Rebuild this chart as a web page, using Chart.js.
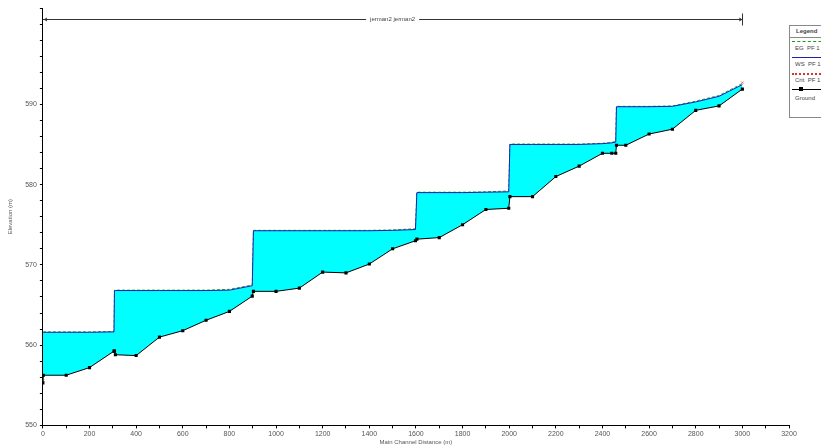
<!DOCTYPE html>
<html>
<head>
<meta charset="utf-8">
<script src="https://cdn.jsdelivr.net/npm/chart.js@4/dist/chart.umd.min.js"></script>
<style>
  html,body{margin:0;padding:0;background:#fff;overflow:hidden;}
  #wrap{position:relative;width:821px;height:446px;}
  #legend{position:absolute;left:789px;top:25px;width:50px;height:91px;border:1px solid #888;background:#fff;
    font-family:"Liberation Sans",Arial,sans-serif;font-size:6px;color:#444;}
  #legend .hdr{height:11px;line-height:11px;padding-left:6px;border-bottom:1px solid #888;font-weight:bold;}
  #legend .row{position:relative;height:16px;}
  #legend .ln{position:absolute;left:2px;width:40px;top:3px;height:0;}
  #legend .tx{position:absolute;left:5px;top:7px;}
</style>
</head>
<body>
<div id="wrap">
<canvas id="c" width="821" height="446"></canvas>
<div id="legend">
  <div class="hdr">Legend</div>
  <div class="row"><div class="ln" style="border-top:1px dashed #1a9a1a"></div><div class="tx">EG&nbsp; PF 1</div></div>
  <div class="row"><div class="ln" style="border-top:1px solid #2020b0"></div><div class="tx">WS&nbsp; PF 1</div></div>
  <div class="row"><div class="ln" style="border-top:2px dotted #e03030"></div><div class="tx">Crit&nbsp; PF 1</div></div>
  <div class="row"><div class="ln" style="border-top:1px solid #000"></div><div style="position:absolute;left:9px;top:1px;width:4px;height:4px;background:#000"></div><div class="tx" style="top:9px">Ground</div></div>
</div>
</div>
<script>
// Main channel distance (m) of each cross section
const stations = [0, 2, 100, 200, 305, 307, 311, 400, 500, 600, 700, 800, 898, 903, 1000, 1100, 1200, 1300, 1400, 1500, 1598, 1604, 1700, 1800, 1900, 1998, 2003, 2100, 2200, 2300, 2400, 2440, 2457, 2460, 2500, 2600, 2700, 2800, 2900, 3000];
// Ground (channel bed) elevation (m)
const ground = [555.3, 556.25, 556.25, 557.2, 559.25, 559.25, 558.8, 558.7, 561.0, 561.8, 563.1, 564.2, 566.1, 566.7, 566.7, 567.1, 569.1, 569.0, 570.1, 572.0, 573.0, 573.2, 573.4, 575.0, 576.9, 577.05, 578.5, 578.5, 581.0, 582.3, 583.9, 583.9, 583.9, 584.9, 584.9, 586.3, 586.9, 589.25, 589.8, 591.9];
// Water surface elevation, profile PF 1 (m)
const wsPF1 = [561.6, 561.6, 561.6, 561.6, 561.65, 566.8, 566.8, 566.8, 566.8, 566.8, 566.8, 566.85, 567.4, 574.25, 574.25, 574.25, 574.25, 574.25, 574.25, 574.3, 574.4, 579.0, 579.0, 579.0, 579.05, 579.1, 585.0, 585.0, 585.0, 585.0, 585.1, 585.2, 585.3, 589.7, 589.7, 589.7, 589.75, 590.3, 591.0, 592.45];
// Energy grade line, profile PF 1 (m)
const egPF1 = [561.65, 561.65, 561.65, 561.65, 561.7, 566.85, 566.85, 566.85, 566.85, 566.85, 566.85, 566.95, 567.5, 574.3, 574.3, 574.3, 574.3, 574.3, 574.3, 574.35, 574.5, 579.05, 579.05, 579.05, 579.1, 579.2, 585.05, 585.05, 585.05, 585.05, 585.15, 585.25, 585.4, 589.75, 589.75, 589.75, 589.8, 590.4, 591.1, 592.6];
// Critical water surface, profile PF 1 (m)
const critStations = [0, 100, 400, 1000, 1700, 2100, 2500, 3000];
const critPF1 = [555.6, 557.7, 560.2, 567.9, 574.25, 579.4, 585.6, 592.7];
// Axis ticks
const xTickStep = 100, xLabelEvery = 200;
const yTickStep = 2, yLabelEvery = 10, yLabelMax = 590;
const reachLabel = 'jerman2 jerman2';
const reachStart = 0, reachEnd = 3000, reachElev = 600.6;

const pts = (xs, ys) => xs.map((x, i) => ({x: x, y: ys[i]}));
const FONT = '"Liberation Sans", Arial, sans-serif';

const reachPlugin = {
  id: 'reach',
  afterDatasetsDraw(chart) {
    const {ctx, scales: {x, y}} = chart;
    const x0 = x.getPixelForValue(reachStart), x1 = x.getPixelForValue(reachEnd);
    const yy = Math.round(y.getPixelForValue(reachElev)) + 0.5;
    ctx.save();
    ctx.strokeStyle = '#333'; ctx.fillStyle = '#333'; ctx.lineWidth = 1;
    ctx.beginPath(); ctx.moveTo(x0, yy); ctx.lineTo(x1, yy); ctx.stroke();
    ctx.beginPath(); ctx.moveTo(Math.round(x1) + 0.5, yy - 6); ctx.lineTo(Math.round(x1) + 0.5, yy + 6); ctx.stroke();
    ctx.beginPath(); ctx.moveTo(x0 + 1, yy); ctx.lineTo(x0 + 4, yy - 2); ctx.lineTo(x0 + 4, yy + 2); ctx.closePath(); ctx.fill();
    ctx.beginPath(); ctx.moveTo(x1, yy); ctx.lineTo(x1 - 3, yy - 2); ctx.lineTo(x1 - 3, yy + 2); ctx.closePath(); ctx.fill();
    ctx.font = '6px ' + FONT;
    const tw = ctx.measureText(reachLabel).width;
    const cx = (x0 + x1) / 2;
    ctx.fillStyle = '#fff'; ctx.fillRect(cx - tw / 2 - 4, yy - 4, tw + 8, 8);
    ctx.fillStyle = '#444'; ctx.textAlign = 'center'; ctx.textBaseline = 'middle';
    ctx.fillText(reachLabel, cx, yy);
    ctx.restore();
  }
};

new Chart(document.getElementById('c'), {
  type: 'line',
  data: {
    datasets: [
      { label: 'Ground', data: pts(stations, ground), borderColor: '#000', borderWidth: 1,
        pointStyle: 'rect', pointRadius: 2.2, pointBackgroundColor: '#000', pointBorderColor: '#000', pointBorderWidth: 0,
        fill: false, tension: 0 },
      { label: 'WS PF 1', data: pts(stations, wsPF1), borderColor: '#1c1cb0', borderWidth: 1, pointRadius: 0,
        fill: {target: 0}, backgroundColor: '#00FFFF', tension: 0 },
      { label: 'EG PF 1', data: pts(stations, egPF1), borderColor: '#30a030', borderWidth: 1, borderDash: [3, 2],
        pointRadius: 0, fill: false, tension: 0 },
      { label: 'Crit PF 1', data: pts(critStations, critPF1), showLine: false, pointStyle: 'crossRot',
        pointRadius: 1.5, pointBorderColor: '#e06070', pointBorderWidth: 1, fill: false }
    ]
  },
  options: {
    responsive: false, animation: false, devicePixelRatio: 1,
    layout: { padding: { left: 7, right: 32, top: 8, bottom: 0 } },
    plugins: { legend: { display: false }, tooltip: { enabled: false } },
    scales: {
      x: {
        type: 'linear', min: 0, max: 3200,
        border: { display: true, color: '#000', width: 1 },
        grid: { display: true, drawOnChartArea: false, drawTicks: true, tickLength: 3, color: '#000' },
        ticks: { stepSize: xTickStep, autoSkip: false, maxRotation: 0, padding: 1, color: '#555',
          font: { family: FONT, size: 7 },
          callback: v => (v % xLabelEvery === 0 ? String(v) : '') },
        title: { display: true, text: 'Main Channel Distance (m)', color: '#555', padding: { top: 0, bottom: 0 },
          font: { family: FONT, size: 6 } }
      },
      y: {
        type: 'linear', min: 550, max: 602,
        border: { display: true, color: '#000', width: 1 },
        grid: { display: true, drawOnChartArea: false, drawTicks: true, tickLength: 3, color: '#000' },
        ticks: { stepSize: yTickStep, autoSkip: false, padding: 3, color: '#555',
          font: { family: FONT, size: 7 },
          callback: v => (v % yLabelEvery === 0 && v <= yLabelMax ? String(v) : '') },
        title: { display: true, text: 'Elevation (m)', color: '#555', padding: { top: 0, bottom: 8 },
          font: { family: FONT, size: 6 } }
      }
    }
  },
  plugins: [reachPlugin]
});
</script>
</body>
</html>
